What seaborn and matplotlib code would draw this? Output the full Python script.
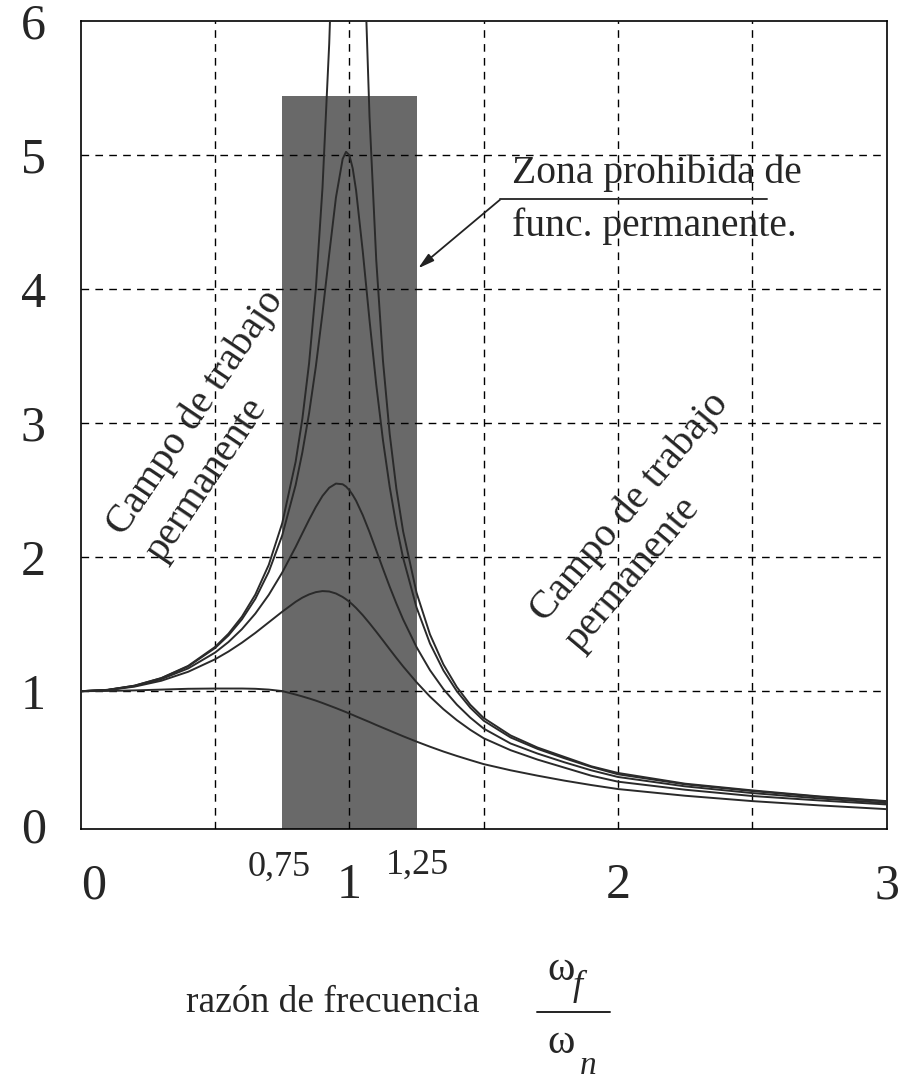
import numpy as np
import pandas as pd
import matplotlib
matplotlib.use('Agg')
import matplotlib.pyplot as plt
import seaborn as sns
from matplotlib.lines import Line2D

# frequency ratio (wf / wn) and amplitude factor
ratio = [0, 0.1, 0.2, 0.3, 0.4, 0.5, 0.55, 0.6, 0.65, 0.7, 0.75, 0.8, 0.825,
         0.85, 0.875, 0.9, 0.925, 0.95, 0.975, 0.9875, 1.0, 1.0125, 1.025,
         1.05, 1.075, 1.1, 1.125, 1.15, 1.175, 1.2, 1.25, 1.3, 1.35, 1.4,
         1.45, 1.5, 1.6, 1.7, 1.8, 1.9, 2.0, 2.25, 2.5, 2.75, 3.0]

amp_005 = [1.0, 1.01, 1.041, 1.098, 1.189, 1.33, 1.429, 1.556, 1.721, 1.943,
           2.253, 2.712, 3.032, 3.446, 3.997, 4.757, 5.832, 7.346, 9.15, 9.82,
           10.0, 9.585, 8.747, 6.815, 5.287, 4.218, 3.467, 2.921, 2.51, 2.193,
           1.735, 1.424, 1.2, 1.031, 0.899, 0.80, 0.67, 0.58, 0.51, 0.44,
           0.39, 0.31, 0.26, 0.215, 0.18]
amp_010 = [1.0, 1.01, 1.041, 1.097, 1.185, 1.322, 1.416, 1.536, 1.689, 1.891,
           2.162, 2.538, 2.782, 3.073, 3.419, 3.821, 4.261, 4.683, 4.971, 5.024,
           5.0, 4.9, 4.736, 4.279, 3.768, 3.288, 2.873, 2.525, 2.236, 1.995,
           1.625, 1.356, 1.155, 1.0, 0.877, 0.78, 0.655, 0.57, 0.50, 0.435,
           0.38, 0.305, 0.255, 0.212, 0.177]
amp_020 = [1.0, 1.009, 1.038, 1.09, 1.17, 1.288, 1.367, 1.463, 1.579, 1.719,
           1.885, 2.076, 2.178, 2.279, 2.374, 2.457, 2.518, 2.549, 2.544, 2.527,
           2.5, 2.464, 2.421, 2.313, 2.187, 2.051, 1.914, 1.78, 1.654, 1.536,
           1.329, 1.157, 1.016, 0.90, 0.803, 0.721, 0.61, 0.535, 0.47, 0.41,
           0.36, 0.29, 0.24, 0.2, 0.165]
amp_030 = [1.0, 1.008, 1.034, 1.078, 1.145, 1.238, 1.296, 1.362, 1.435, 1.514,
           1.593, 1.667, 1.698, 1.722, 1.739, 1.747, 1.744, 1.729, 1.703, 1.686,
           1.667, 1.645, 1.621, 1.567, 1.507, 1.444, 1.379, 1.313, 1.248, 1.185,
           1.067, 0.96, 0.866, 0.784, 0.712, 0.649, 0.56, 0.49, 0.43, 0.37,
           0.325, 0.265, 0.218, 0.185, 0.155]
amp_060 = [1.0, 1.002, 1.006, 1.012, 1.018, 1.02, 1.02, 1.02, 1.018, 1.012,
           1.001, 0.975, 0.961, 0.946, 0.93, 0.912, 0.893, 0.874, 0.854, 0.844,
           0.833, 0.823, 0.812, 0.791, 0.77, 0.748, 0.727, 0.706, 0.685, 0.664,
           0.624, 0.586, 0.55, 0.517, 0.486, 0.456, 0.41, 0.37, 0.333, 0.30,
           0.27, 0.22, 0.18, 0.148, 0.12]
curves = {'0.05': amp_005, '0.1': amp_010, '0.2': amp_020,
          '0.3': amp_030, '0.6': amp_060}

# forbidden zone
band_x = [0.75, 1.25]
band_top = 5.44

x_ticks = [0, 1, 2, 3]
y_ticks = [0, 1, 2, 3, 4, 5, 6]
grid_x = [0.5, 1, 1.5, 2, 2.5]
grid_y = [1, 2, 3, 4, 5]

df = pd.concat([pd.DataFrame({'ratio': ratio, 'amp': v, 'zeta': k})
                for k, v in curves.items()], ignore_index=True)

sns.set_theme(style='white')
plt.rcParams['font.family'] = ['Liberation Serif', 'DejaVu Serif']

fig = plt.figure(figsize=(9.11, 10.84), dpi=100)
ax = fig.add_axes([0.0886, 0.235, 0.8847, 0.7456])

ymin, ymax = -0.03, 5.99
ax.fill_between(band_x, ymin, band_top, color='#696969', lw=0, zorder=1)

# dashed grid
dash = (0, (5.5, 4.5))
for gx in grid_x:
    ax.axvline(gx, color='black', ls=dash, lw=1.0, zorder=2)
for gy in grid_y:
    ax.axhline(gy, color='black', ls=dash, lw=1.0, zorder=2)

sns.lineplot(data=df, x='ratio', y='amp', units='zeta', estimator=None,
             sort=False, color='#2a2a2a', lw=1.4, ax=ax, zorder=3)

ax.set_xlim(0, 3)
ax.set_ylim(ymin, ymax)
ax.set_xticks(x_ticks)
ax.set_yticks(y_ticks)
ax.grid(False)
ax.tick_params(axis='both', which='both', length=0, labelsize=36)
ax.tick_params(axis='x', pad=24)
ax.tick_params(axis='y', pad=25)
ax.get_xticklabels()[0].set_horizontalalignment('left')
ax.set_xlabel('')
ax.set_ylabel('')
for s in ax.spines.values():
    s.set_visible(True)
    s.set_color('black')
    s.set_linewidth(1.2)

# small labels for the band limits
tr = ax.get_xaxis_transform()
ax.text(0.74, -0.047, '0,75', transform=tr, fontsize=26, ha='center', va='center')
ax.text(1.255, -0.045, '1,25', transform=tr, fontsize=26, ha='center', va='center')

# forbidden zone callout
ax.annotate('', xy=(1.256, 4.155), xytext=(1.562, 4.669),
            arrowprops=dict(arrowstyle='-|>,head_length=0.8,head_width=0.22',
                            color='#222222', lw=1.3, shrinkA=0, shrinkB=0),
            zorder=4)
ax.plot([1.562, 2.555], [4.669, 4.669], color='#333333', lw=1.4, zorder=4)
ax.text(1.606, 4.79, 'Zona prohibida de', fontsize=28.5, va='baseline')
ax.text(1.606, 4.395, 'func. permanente.', fontsize=28.5, va='baseline')

ax.text(0.4985, 2.98, 'Campo de trabajo\npermanente', rotation=56,
        rotation_mode='anchor', ha='center', va='center',
        multialignment='left', fontsize=29, linespacing=1.3)
ax.text(2.108, 2.267, 'Campo de trabajo\npermanente', rotation=50,
        rotation_mode='anchor', ha='center', va='center',
        multialignment='left', fontsize=29, linespacing=1.3)

# axis title with the fraction wf / wn
fig.text(0.3655, 0.0747, 'razón de frecuencia', fontsize=27, ha='center', va='center')
fig.text(0.601, 0.0959, 'ω', fontsize=30, ha='left', va='baseline')
fig.text(0.629, 0.0821, 'f', fontsize=26, style='italic', ha='left', va='baseline')
fig.add_artist(Line2D([0.5895, 0.6696], [0.0661, 0.0661],
                      transform=fig.transFigure, color='#222222', lw=1.4))
fig.text(0.601, 0.0286, 'ω', fontsize=30, ha='left', va='baseline')
fig.text(0.636, 0.009, 'n', fontsize=24, style='italic', ha='left', va='baseline')

fig.savefig('out.png', dpi=100)
